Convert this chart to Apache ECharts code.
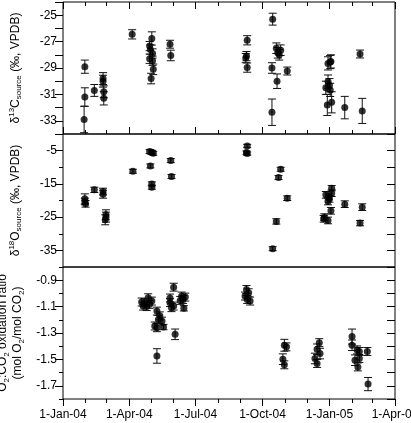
<!DOCTYPE html>
<html><head><meta charset="utf-8">
<script src="https://cdn.jsdelivr.net/npm/echarts@6/dist/echarts.min.js"></script>
<style>html,body{margin:0;padding:0;background:#fff}#c{width:411px;height:423px}</style>
</head><body><div id="c"></div>
<script>
// ---- tick labels / axis ranges ----
const xTickDates = ['2004-01-01','2004-04-01','2004-07-01','2004-10-01','2005-01-01','2005-04-01'];
const xTickLabels = ['1-Jan-04','1-Apr-04','1-Jul-04','1-Oct-04','1-Jan-05','1-Apr-05'];
const c13Labels = [-33,-31,-29,-27,-25];
const o18Labels = [-35,-25,-15,-5];
const ratioLabels = [-1.7,-1.5,-1.3,-1.1,-0.9];

// ---- panel 1: d13C source ----
const c13Dates = ['2004-01-31','2004-01-31','2004-01-30','2004-02-13','2004-02-25','2004-02-25','2004-02-26','2004-02-26',
 '2004-04-05','2004-05-02','2004-04-29','2004-04-30','2004-05-03','2004-04-29','2004-05-03','2004-05-04','2004-05-01',
 '2004-05-27','2004-05-28','2004-09-10','2004-09-08','2004-09-09','2004-09-10',
 '2004-10-15','2004-10-14','2004-10-20','2004-10-22','2004-10-24','2004-10-26','2004-10-14','2004-10-21','2004-11-04',
 '2004-12-30','2005-01-02','2005-01-03','2004-12-30','2004-12-27','2005-01-01','2005-01-02','2004-12-29','2005-01-04',
 '2005-01-22','2005-02-15','2005-02-12'];
const c13Values = [-28.9,-31.2,-32.9,-30.7,-29.8,-30.0,-30.8,-31.3,
 -26.45,-26.76,-27.34,-27.6,-27.9,-28.3,-28.45,-29.1,-29.8,
 -27.2,-28.05,-26.9,-28.25,-28.1,-28.97,
 -25.3,-32.35,-27.5,-27.85,-28.0,-27.65,-29.0,-30.0,-29.23,
 -28.65,-28.55,-28.5,-30.03,-30.5,-30.3,-30.66,-31.8,-31.6,
 -32.0,-32.25,-27.94];
const c13Errors = [0.5,0.7,1.0,0.45,0.45,0.45,0.45,0.5,
 0.35,0.5,0.35,0.35,0.35,0.35,0.35,0.4,0.4,
 0.3,0.4,0.35,0.35,0.35,0.35,
 0.45,1.0,0.4,0.4,0.4,0.4,0.4,0.55,0.3,
 0.5,0.5,0.5,0.5,0.5,0.5,0.5,0.8,0.8,
 0.85,0.95,0.3];

// ---- panel 2: d18O source ----
const o18Dates = ['2004-01-31','2004-01-31','2004-02-01','2004-02-13','2004-02-25','2004-02-25','2004-02-29','2004-02-29','2004-02-28',
 '2004-04-06','2004-04-29','2004-05-02','2004-05-04','2004-04-30','2004-05-02','2004-05-02','2004-05-28','2004-05-29',
 '2004-09-10','2004-09-10','2004-09-09',
 '2004-10-15','2004-10-20','2004-10-23','2004-10-26','2004-11-04',
 '2004-12-25','2004-12-24','2004-12-30','2005-01-03','2004-12-27','2004-12-31','2004-12-30','2005-01-04','2005-01-04','2005-01-01',
 '2005-01-22','2005-02-12','2005-02-15'];
const o18Values = [-19.5,-20.3,-21.0,-16.8,-17.3,-18.1,-24.3,-25.0,-25.8,
 -11.2,-5.3,-5.5,-5.8,-9.6,-15.0,-16.0,-8.0,-12.8,
 -3.6,-5.9,-5.6,
 -34.5,-26.3,-13.1,-10.6,-19.3,
 -25.0,-25.5,-26.0,-23.1,-18.3,-18.8,-20.3,-16.3,-17.8,-19.5,
 -21.1,-26.8,-22.0];
const o18Errors = [1.5,1.0,1.0,0.8,1.0,1.2,1.5,1.5,1.5,
 0.6,0.6,0.6,0.6,0.6,0.6,0.6,0.6,0.6,
 0.5,0.5,0.5,
 0.6,0.8,0.6,0.6,0.7,
 1.0,1.0,1.0,1.0,1.0,1.0,1.0,0.8,1.0,1.0,
 1.0,0.8,1.0];

// ---- panel 3: O2:CO2 oxidation ratio ----
const ratioDates = ['2004-04-22','2004-04-27','2004-04-29','2004-04-25','2004-05-02','2004-04-20','2004-04-18',
 '2004-05-09','2004-05-13','2004-05-11','2004-05-16','2004-05-06','2004-05-18','2004-05-09','2004-05-09',
 '2004-06-01','2004-05-27','2004-05-27','2004-06-01','2004-05-29','2004-06-12','2004-06-14','2004-06-10','2004-06-17','2004-06-15','2004-06-03',
 '2004-09-09','2004-09-12','2004-09-07','2004-09-10','2004-09-14',
 '2004-10-31','2004-11-03','2004-10-29','2004-10-31',
 '2004-12-15','2004-12-18','2004-12-19','2004-12-12','2004-12-15',
 '2005-02-01','2005-02-01','2005-02-08','2005-02-11','2005-02-05','2005-02-11','2005-02-09','2005-02-22','2005-02-23'];
const ratioValues = [-1.07,-1.033,-1.083,-1.10,-1.058,-1.096,-1.065,
 -1.134,-1.17,-1.197,-1.21,-1.247,-1.255,-1.26,-1.474,
 -0.953,-1.035,-1.07,-1.096,-1.108,-1.02,-1.046,-1.053,-1.028,-1.113,-1.31,
 -0.97,-0.995,-1.02,-1.046,-1.058,
 -1.393,-1.405,-1.498,-1.541,
 -1.423,-1.373,-1.456,-1.493,-1.531,
 -1.327,-1.393,-1.428,-1.44,-1.506,-1.493,-1.557,-1.44,-1.687];
const ratioErrors = [0.03,0.03,0.03,0.03,0.03,0.03,0.03,
 0.03,0.03,0.03,0.03,0.03,0.02,0.03,0.055,
 0.03,0.03,0.03,0.03,0.03,0.03,0.03,0.03,0.03,0.02,0.04,
 0.03,0.03,0.03,0.03,0.03,
 0.045,0.03,0.04,0.03,
 0.04,0.03,0.04,0.04,0.03,
 0.057,0.04,0.03,0.03,0.04,0.03,0.03,0.03,0.05];

// ---- helpers ----
const T0 = Date.UTC(2004,0,1);
function dayOf(s){ const p=s.split('-'); return (Date.UTC(+p[0],+p[1]-1,+p[2])-T0)/86400000; }
const quarterDays = xTickDates.map(dayOf);
const monthDays = [];
for (let y=2004,m=0; !(y===2005 && m>3); ){ monthDays.push(dayOf(y+'-'+(m+1)+'-1')); m++; if(m>11){m=0;y++;} }
const XMAX = dayOf('2005-04-01');
const labelMap = {}; quarterDays.forEach((d,i)=>labelMap[d]=xTickLabels[i]);

const panels = [
  {dates:c13Dates, vals:c13Values, errs:c13Errors, min:-34, max:-24, step:1, labels:c13Labels, dec:0,
   name:'{n|δ}{sup|13}{n|C}{sub|source}{n| (‰, VPDB)}', gap:40},
  {dates:o18Dates, vals:o18Values, errs:o18Errors, min:-40, max:0, step:5, labels:o18Labels, dec:0,
   name:'{n|δ}{sup|18}{n|O}{sub|source}{n| (‰, VPDB)}', gap:40},
  {dates:ratioDates, vals:ratioValues, errs:ratioErrors, min:-1.8, max:-0.8, step:0.1, labels:ratioLabels, dec:1,
   name:'{n|O}{sub|2}{n|:CO}{sub|2}{n| oxidation ratio}\n{n|(mol O}{sub|2}{n|/mol CO}{sub|2}{n|)}', gap:34}
];
const gridDefs = [{top:2,height:132},{top:134,height:133},{top:267,height:132}];
const TXT = '#000', LINE = '#000';
const FONT = 'Liberation Sans, Arial, sans-serif';
const rich = {
  n:{fontSize:12, fontFamily:FONT, color:TXT, lineHeight:15},
  sup:{fontSize:8, fontFamily:FONT, color:TXT, verticalAlign:'top', lineHeight:15},
  sub:{fontSize:8, fontFamily:FONT, color:TXT, verticalAlign:'bottom', lineHeight:15}
};

const grid=[], xAxis=[], yAxis=[], series=[];
panels.forEach((p,i)=>{
  grid.push({left:63, right:16, top:gridDefs[i].top, height:gridDefs[i].height, show:true,
    borderColor:LINE, borderWidth:1, backgroundColor:'transparent', containLabel:false, outerBoundsMode:'none'});
  const xBase = {type:'value', gridIndex:i, min:0, max:XMAX, splitLine:{show:false},
    axisLine:{show:false}};
  const last = i===2;
  const xMajorIdx = xAxis.length;
  xAxis.push(Object.assign({}, xBase, {position:'bottom',
    axisTick:{show:true, inside:!last, length:7, customValues:quarterDays, lineStyle:{color:LINE}},
    axisLabel:{show:last, customValues:quarterDays, formatter:v=>labelMap[v]||'', color:TXT, fontSize:12, fontFamily:FONT, margin:10, hideOverlap:false}}));
  xAxis.push(Object.assign({}, xBase, {position:'bottom',
    axisTick:{show:true, inside:!last, length:4, customValues:monthDays, lineStyle:{color:LINE}},
    axisLabel:{show:false}}));
  if (i===0){
    xAxis.push(Object.assign({}, xBase, {position:'top',
      axisTick:{show:true, inside:true, length:7, customValues:quarterDays, lineStyle:{color:LINE}}, axisLabel:{show:false}}));
    xAxis.push(Object.assign({}, xBase, {position:'top',
      axisTick:{show:true, inside:true, length:4, customValues:monthDays, lineStyle:{color:LINE}}, axisLabel:{show:false}}));
  }
  const all=[]; for(let k=0; p.min+k*p.step<=p.max+1e-9; k++) all.push(+(p.min+k*p.step).toFixed(3));
  const yBase = {type:'value', gridIndex:i, min:p.min, max:p.max, splitLine:{show:false}, axisLine:{show:false}};
  const yMajorIdx = yAxis.length;
  yAxis.push(Object.assign({}, yBase, {position:'left',
    axisTick:{show:true, inside:false, length:8, customValues:p.labels, lineStyle:{color:LINE}},
    axisLabel:{show:true, customValues:p.labels, formatter:v=>(+v).toFixed(p.dec), color:TXT, fontSize:12, fontFamily:FONT, margin:6},
    name:p.name, nameLocation:'middle', nameRotate:90, nameGap:p.gap, nameTextStyle:{rich:rich, align:'center'}}));
  yAxis.push(Object.assign({}, yBase, {position:'left',
    axisTick:{show:true, inside:false, length:4, customValues:all, lineStyle:{color:LINE}}, axisLabel:{show:false}}));
  yAxis.push(Object.assign({}, yBase, {position:'right',
    axisTick:{show:true, inside:true, length:8, customValues:all, lineStyle:{color:LINE}}, axisLabel:{show:false}}));

  const data = p.dates.map((d,j)=>[dayOf(d), p.vals[j], p.errs[j]]);
  series.push({type:'custom', xAxisIndex:xMajorIdx, yAxisIndex:yMajorIdx, data:data, encode:{x:0,y:1}, z:1,
    renderItem:function(params, api){
      const x=api.value(0), y=api.value(1), e=api.value(2);
      const a=api.coord([x,y+e]), b=api.coord([x,y-e]); const w=4;
      const st={stroke:'#111', lineWidth:1};
      return {type:'group', children:[
        {type:'line', shape:{x1:a[0],y1:a[1],x2:b[0],y2:b[1]}, style:st},
        {type:'line', shape:{x1:a[0]-w,y1:a[1],x2:a[0]+w,y2:a[1]}, style:st},
        {type:'line', shape:{x1:b[0]-w,y1:b[1],x2:b[0]+w,y2:b[1]}, style:st}
      ]};
    }});
  series.push({type:'scatter', xAxisIndex:xMajorIdx, yAxisIndex:yMajorIdx, data:data.map(r=>[r[0],r[1]]),
    symbol:'circle', symbolSize:7, itemStyle:{color:'#000'}, z:2, silent:true});
});

const chart = echarts.init(document.getElementById('c'), null, {renderer:'canvas'});
chart.setOption({animation:false, backgroundColor:'#fff', grid, xAxis, yAxis, series});
</script></body></html>
